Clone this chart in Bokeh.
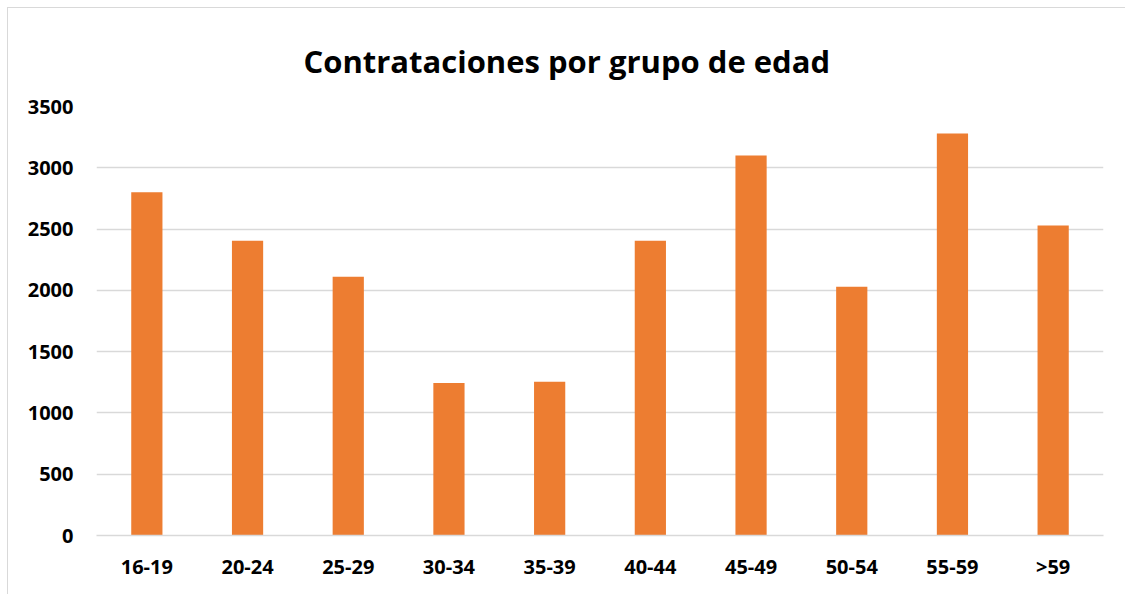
from bokeh.plotting import figure
from bokeh.models import FactorRange, Range1d, FixedTicker, ColumnDataSource
from bokeh.embed import file_html
from bokeh.resources import INLINE

# Data
categories = ["16-19", "20-24", "25-29", "30-34", "35-39", "40-44", "45-49", "50-54", "55-59", ">59"]
contrataciones = [2800, 2405, 2110, 1245, 1255, 2405, 3100, 2030, 3280, 2530]
y_ticks = [0, 500, 1000, 1500, 2000, 2500, 3000, 3500]
title_text = "Contrataciones por grupo de edad"

source = ColumnDataSource(data=dict(cat=categories, val=contrataciones))

p = figure(
    width=1118, height=587,
    x_range=FactorRange(*categories, range_padding=0),
    y_range=Range1d(0, 3500),
    output_backend="svg", toolbar_location=None,
    min_border=0,
)
p.min_border_left = 88
p.min_border_right = 23
p.min_border_top = 98
p.min_border_bottom = 60
p.styles = {"border-top": "1px solid #d9d9d9", "border-left": "1px solid #d9d9d9",
            "margin-top": "7px", "margin-left": "7px"}

p.vbar(x="cat", top="val", width=0.31, source=source,
       fill_color="#ED7D31", line_color=None)

# Title
p.title.text = title_text
p.title.align = "left"
p.title.offset = 207
p.title.vertical_align = "top"
p.title.standoff = 46
p.title.text_font = "Open Sans"
p.title.text_font_style = "bold"
p.title.text_font_size = "31px"
p.title.text_color = "#000000"

# Grid
p.xgrid.grid_line_color = None
p.ygrid.grid_line_color = "#d9d9d9"
p.ygrid.grid_line_width = 1.5
p.outline_line_color = None

# Axes
p.yaxis.ticker = FixedTicker(ticks=y_ticks)
p.yaxis.axis_line_color = None
p.yaxis.major_tick_line_color = None
p.yaxis.minor_tick_line_color = None
p.yaxis.major_tick_in = 0
p.yaxis.major_tick_out = 0
p.yaxis.major_label_standoff = 23
p.yaxis.major_label_text_font = "Open Sans"
p.yaxis.major_label_text_font_style = "bold"
p.yaxis.major_label_text_font_size = "20px"
p.yaxis.major_label_text_color = "#000000"

p.xaxis.axis_line_color = "#d9d9d9"
p.xaxis.axis_line_width = 1.5
p.xaxis.major_tick_line_color = None
p.xaxis.major_tick_in = 0
p.xaxis.major_tick_out = 0
p.xaxis.major_label_standoff = 17
p.xaxis.major_label_text_font = "Open Sans"
p.xaxis.major_label_text_font_style = "bold"
p.xaxis.major_label_text_font_size = "20px"
p.xaxis.major_label_text_color = "#000000"

open("out.html", "w").write(file_html(p, INLINE))
